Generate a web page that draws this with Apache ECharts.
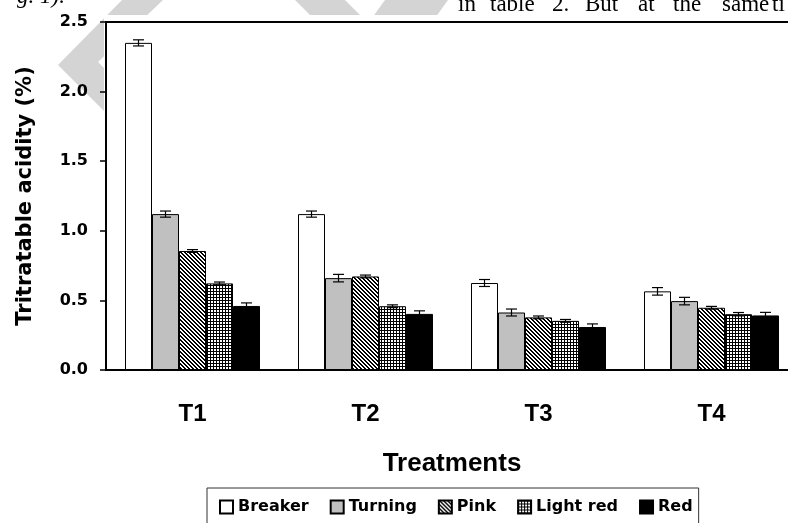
<!DOCTYPE html>
<html>
<head>
<meta charset="utf-8">
<script src="https://cdn.jsdelivr.net/npm/echarts@6/dist/echarts.min.js"></script>
<style>
html,body{margin:0;padding:0;background:#fff;}
#chart{width:788px;height:523px;}
</style>
</head>
<body>
<div id="chart"></div>
<script>
// ---- data ----
const categories = ['T1', 'T2', 'T3', 'T4'];
const stages = ['Breaker', 'Turning', 'Pink', 'Light red', 'Red'];
const breaker  = [2.35, 1.12, 0.625, 0.565];
const turning  = [1.12, 0.66, 0.413, 0.495];
const pink     = [0.855, 0.672, 0.378, 0.447];
const lightRed = [0.622, 0.458, 0.353, 0.401];
const red      = [0.46, 0.403, 0.309, 0.392];
const breakerErr  = [0.022, 0.022, 0.025, 0.027];
const turningErr  = [0.022, 0.027, 0.025, 0.027];
const pinkErr     = [0.01, 0.01, 0.01, 0.01];
const lightRedErr = [0.01, 0.01, 0.01, 0.012];
const redErr      = [0.022, 0.022, 0.022, 0.022];
const yMin = 0, yMax = 2.5, yStep = 0.5;

// ---- styles ----
const BAR_W = 27;
function pattern(w, h, fn) {
  const c = document.createElement('canvas');
  c.width = w; c.height = h;
  const g = c.getContext('2d');
  g.fillStyle = '#fff'; g.fillRect(0, 0, w, h);
  g.fillStyle = '#000';
  for (let x = 0; x < w; x++) for (let y = 0; y < h; y++) if (fn(x, y)) g.fillRect(x, y, 1, 1);
  return c;
}
const hatch = pattern(4, 4, (x, y) => ((x - y + 8) % 4) < 2);
const grid3 = pattern(3, 3, (x, y) => x % 3 === 0 || y % 3 === 0);
const fills = [
  '#ffffff',
  '#c0c0c0',
  { image: hatch, repeat: 'repeat' },
  { image: grid3, repeat: 'repeat' },
  '#000000'
];
const values = [breaker, turning, pink, lightRed, red];
const errs = [breakerErr, turningErr, pinkErr, lightRedErr, redErr];

const barSeries = stages.map((name, i) => ({
  name: name,
  type: 'bar',
  barWidth: BAR_W,
  barGap: '0%',
  data: values[i],
  itemStyle: { color: fills[i], borderColor: '#000', borderWidth: 1 },
  emphasis: { disabled: true },
  z: 2
}));

const errData = [];
stages.forEach((s, si) => {
  categories.forEach((c, ci) => {
    errData.push([ci, values[si][ci], errs[si][ci], si]);
  });
});

const errSeries = {
  type: 'custom',
  coordinateSystem: 'cartesian2d',
  encode: { x: 0, y: 1 },
  data: errData,
  z: 5,
  silent: true,
  renderItem: function (params, api) {
    const ci = api.value(0), v = api.value(1), e = api.value(2), si = api.value(3);
    const c = api.coord([ci, v]);
    const x = c[0] + (si - 2) * BAR_W;
    const yt = api.coord([ci, v + e])[1];
    const yb = api.coord([ci, v - e])[1];
    const st = { stroke: '#000', lineWidth: 1.2 };
    return {
      type: 'group',
      children: [
        { type: 'line', shape: { x1: x, y1: yt, x2: x, y2: yb }, style: st },
        { type: 'line', shape: { x1: x - 5.5, y1: yt, x2: x + 5.5, y2: yt }, style: st },
        { type: 'line', shape: { x1: x - 5.5, y1: yb, x2: x + 5.5, y2: yb }, style: st }
      ]
    };
  }
};

const gray = '#d4d4d4';
const serif = { fontFamily: 'Liberation Serif', fontSize: 23, fill: '#000' };
const topWords = [['in', 458], ['table', 490], ['2.', 552], ['But', 585], ['at', 638], ['the', 673], ['same', 722], ['ti', 772]];

const graphics = [
  { type: 'polygon', z: -10, silent: true, shape: { points: [[58, 65], [122, 0], [163, 0], [98, 62], [160, 124], [120, 127]] }, style: { fill: gray } },
  { type: 'polygon', z: -10, silent: true, shape: { points: [[295, 0], [345, 0], [370, 25], [320, 25]] }, style: { fill: gray } },
  { type: 'polygon', z: -10, silent: true, shape: { points: [[385, 0], [448, 0], [430, 25], [367, 25]] }, style: { fill: gray } },
  { type: 'rect', z: -5, silent: true, shape: { x: 104, y: 15, width: 700, height: 520 }, style: { fill: '#fff' } },
  { type: 'text', z: -4, silent: true, x: 17, y: 8, style: Object.assign({ text: 'g. 1).', fontStyle: 'italic', verticalAlign: 'bottom' }, serif) }
].concat(topWords.map(w => ({
  type: 'text', z: -4, silent: true, x: w[1], y: 16,
  style: Object.assign({ text: w[0], verticalAlign: 'bottom' }, serif)
})));

const chart = echarts.init(document.getElementById('chart'), null, { renderer: 'canvas' });
chart.setOption({
  animation: false,
  backgroundColor: '#fff',
  graphic: { elements: graphics },
  grid: {
    left: 106, top: 22, width: 692, height: 348,
    containLabel: false,
    outerBoundsMode: 'none',
    show: true, borderColor: '#000', borderWidth: 2, backgroundColor: 'transparent'
  },
  legend: {
    data: stages,
    left: 207, top: 488,
    padding: [11, 6, 20, 12],
    itemGap: 21,
    itemWidth: 13, itemHeight: 13,
    icon: 'rect',
    borderColor: '#333', borderWidth: 1,
    backgroundColor: '#fff',
    selectedMode: false,
    textStyle: { fontFamily: 'DejaVu Sans', fontWeight: 'bold', fontSize: 16, color: '#000', padding: [0, 0, 0, 0] }
  },
  xAxis: {
    type: 'category',
    data: categories,
    axisLine: { show: true, lineStyle: { color: '#000', width: 2 } },
    axisTick: { show: false },
    axisLabel: { margin: 32, fontFamily: 'Liberation Sans', fontWeight: 'bold', fontSize: 24, color: '#000' },
    name: 'Treatments',
    nameLocation: 'middle',
    nameGap: 81,
    nameTextStyle: { fontFamily: 'Liberation Sans', fontWeight: 'bold', fontSize: 26, color: '#000' }
  },
  yAxis: {
    type: 'value',
    min: yMin, max: yMax, interval: yStep,
    axisLine: { show: true, lineStyle: { color: '#000', width: 2 } },
    axisTick: { show: true, inside: false, length: 6, lineStyle: { color: '#000', width: 1.5 } },
    splitLine: { show: false },
    axisLabel: {
      margin: 18,
      formatter: v => v.toFixed(1),
      fontFamily: 'DejaVu Sans', fontWeight: 'bold', fontSize: 16, color: '#000'
    },
    name: 'Tritratable acidity (%)',
    nameLocation: 'middle',
    nameGap: 70,
    nameTextStyle: { fontFamily: 'DejaVu Sans', fontWeight: 'bold', fontSize: 21, color: '#000' }
  },
  series: barSeries.concat([errSeries])
});
</script>
</body>
</html>
